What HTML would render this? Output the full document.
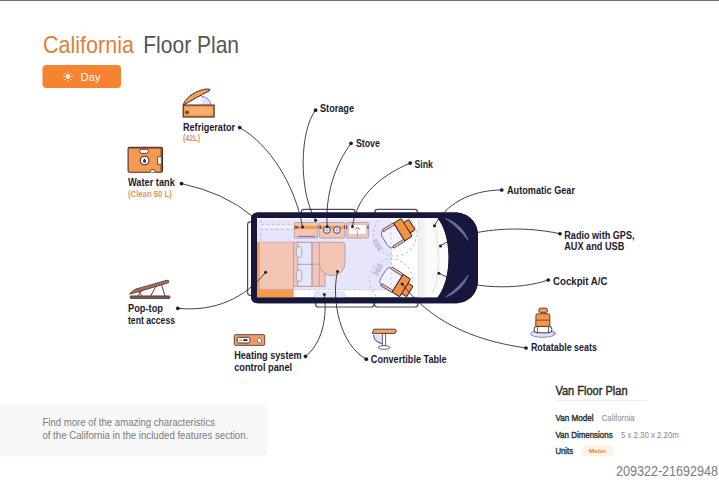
<!DOCTYPE html>
<html><head><meta charset="utf-8">
<style>
html,body{margin:0;padding:0;background:#fff;width:719px;height:480px;overflow:hidden}
svg{display:block;font-family:"Liberation Sans",sans-serif}
.lb{font-weight:bold;fill:#1c1a32;font-size:10px}
.sl{fill:#de955a;font-size:8.5px;font-weight:bold}
.ln{fill:none;stroke:#2e2d40;stroke-width:0.9}
</style></head><body>
<svg width="719" height="480" viewBox="0 0 719 480">
<defs>
<filter id="sh" x="-10%" y="-30%" width="120%" height="160%"><feGaussianBlur stdDeviation="1.5"/></filter>
</defs>
<!-- top border -->
<rect x="0" y="0" width="719" height="1" fill="#707070"/>
<!-- title -->
<text x="43" y="53" font-size="24" fill="#e27d38" textLength="91" lengthAdjust="spacingAndGlyphs">California</text>
<text x="143.3" y="53" font-size="24" fill="#545456" textLength="95.7" lengthAdjust="spacingAndGlyphs">Floor Plan</text>
<!-- day button -->
<rect x="42.5" y="65" width="78.5" height="23" rx="4" fill="#f5832f"/>
<g stroke="#fff" stroke-width="1" stroke-linecap="round" opacity="0.9">
<circle cx="67.9" cy="76.5" r="2.4" fill="#fff" stroke="none"/>
<path d="M71.80 76.50L72.40 76.50M70.66 79.26L71.08 79.68M67.90 80.40L67.90 81.00M65.14 79.26L64.72 79.68M64.00 76.50L63.40 76.50M65.14 73.74L64.72 73.32M67.90 72.60L67.90 72.00M70.66 73.74L71.08 73.32"/>
</g>
<text x="80.6" y="81.4" font-size="11.5" fill="#fff" textLength="19.9" lengthAdjust="spacingAndGlyphs">Day</text>

<!-- icons -->
<g id="ic-fridge">
<path d="M201.8 105.2V96.4A8.8 8.8 0 0 1 210.6 105.2Z" fill="#e4e2fa"/>
<path d="M201.8 96.4A8.8 8.8 0 0 1 210.6 105.2" fill="none" stroke="#7c78d0" stroke-width="0.9"/>
<path d="M201 95.6L202.6 96.4L201.2 97.6" fill="none" stroke="#7c78d0" stroke-width="0.7"/>
<path d="M183.3 104.9C185 99 192 92.5 203.6 89.4Q208 88.6 210 89.4L209.3 90.8C200 95.5 192 100 183.8 105Z" fill="#f5a060" stroke="#3e2420" stroke-width="1" stroke-linejoin="round"/>
<rect x="183.2" y="105.1" width="30.9" height="11.9" fill="#f39650" stroke="#4e2e26" stroke-width="1.2"/>
<rect x="185" y="107.4" width="27.4" height="7.2" fill="#f9ae6c"/>
<path d="M187.1 110.2V114.4M185 112.3H189.2M185.6 110.8L188.6 113.8M185.6 113.8L188.6 110.8" stroke="#5a2e22" stroke-width="0.9"/>
</g>
<g id="ic-tank">
<rect x="128.1" y="147.3" width="34.4" height="24.9" rx="1.5" fill="#f59a50" stroke="#4e2e26" stroke-width="1.1"/>
<path d="M128.6 147.9H162" stroke="#5a3328" stroke-width="1.4"/>
<path d="M161.2 148V171.6" stroke="#8a4a30" stroke-width="1.4"/>
<rect x="139.8" y="149.3" width="8.6" height="4" rx="1.7" fill="#fff" stroke="#4e2e26" stroke-width="0.9"/>
<circle cx="144.6" cy="160.5" r="4.3" fill="#fff" stroke="#4e2e26" stroke-width="1.1"/>
<path d="M144.6 158.2C143.6 159.6 143 160.4 143 161.2A1.6 1.6 0 0 0 146.2 161.2C146.2 160.4 145.6 159.6 144.6 158.2Z" fill="#2d3466"/>
<path d="M160.8 156.7H157.6V164.3H160.8" fill="#fff" stroke="#4e2e26" stroke-width="0.8"/>
<path d="M149.8 172.3A2.8 2.8 0 0 1 155.4 172.3" fill="#fff" stroke="#4e2e26" stroke-width="0.9"/>
</g>
<g id="ic-poptop" stroke="#4a2c28" stroke-width="0.8">
<path d="M155.8 286.7L150.4 296.4M161.7 285L165 296.4M137.6 290.8L142.4 296.2M142.2 290.4L137.6 296.2" fill="none" stroke-width="0.9"/>
<rect x="130" y="295.9" width="40" height="2.5" rx="1" fill="#7e5a50"/>
<path d="M129.6 294.2Q133 289 140 287.9L167 280.2Q169.6 280 168.6 282.7L140 291.3Q134 293 129.6 294.2Z" fill="#a86d58" stroke-linejoin="round"/>
</g>
<g id="ic-heat">
<rect x="234.3" y="334.7" width="30.4" height="10.6" rx="1" fill="#f0a070" stroke="#6a4030" stroke-width="1"/>
<rect x="237.2" y="337.3" width="12.8" height="5.7" rx="1.6" fill="#fff" stroke="#3a2424" stroke-width="0.9"/>
<rect x="243.3" y="339.2" width="4.2" height="1.9" rx="0.9" fill="#1c1a3e"/>
<path d="M239 340.2H242" stroke="#3a2424" stroke-width="0.6"/>
<path d="M253.9 338.2V342" stroke="#e07a3a" stroke-width="1"/>
<path d="M259.4 337.2C258 338.9 257.3 339.8 257.3 340.9A2.1 2.1 0 0 0 261.5 340.9C261.5 339.8 260.8 338.9 259.4 337.2Z" fill="#fff" stroke="#6a4030" stroke-width="0.7"/>
</g>
<g id="ic-table">
<path d="M382 334.8H373.6A8.6 8.6 0 0 0 382 343.4Z" fill="#e4e2fa"/>
<path d="M373.6 334.8A8.6 8.6 0 0 0 382 343.4" fill="none" stroke="#3a3860" stroke-width="0.9"/>
<rect x="382.3" y="333.4" width="3.4" height="13.4" fill="#fff" stroke="#3a3860" stroke-width="0.8"/>
<ellipse cx="384" cy="347.5" rx="5.9" ry="1.8" fill="#fff" stroke="#3a3860" stroke-width="0.8"/>
<path d="M373.9 329.2H395.3L396.4 331.2L395 333.4H372.3Z" fill="#f0a868" stroke="#4a2c28" stroke-width="0.9" stroke-linejoin="round"/>
</g>
<g id="ic-seat">
<ellipse cx="542.9" cy="333.8" rx="12.3" ry="3.5" fill="#e4e2fa" stroke="#7c78d0" stroke-width="0.9"/>
<path d="M553.6 331L555.4 333.3L552.6 333.8" fill="none" stroke="#7c78d0" stroke-width="0.8"/>
<rect x="534" y="326.3" width="17.9" height="6.5" rx="3" fill="#fff" stroke="#2a1e22" stroke-width="0.9"/>
<path d="M537.4 326.8V332.4M548.5 326.8V332.4" stroke="#2a1e22" stroke-width="0.7"/>
<path d="M541.8 312.2V314M544.8 312.2V314" stroke="#5a3328" stroke-width="0.8"/>
<path d="M537.3 313.8H548.4Q549.6 313.8 549.7 315L550 326.4H535.7L536 315Q536.1 313.8 537.3 313.8Z" fill="#f2984e" stroke="#5a3328" stroke-width="0.9"/>
<path d="M535.9 320.1H549.8" stroke="#5a3328" stroke-width="0.8"/>
<rect x="538.8" y="308.1" width="8.6" height="4.3" rx="1.6" fill="#f59a50" stroke="#5a3328" stroke-width="0.9"/>
</g>
<!-- labels -->
<text class="lb" x="183" y="130.7" textLength="52" lengthAdjust="spacingAndGlyphs">Refrigerator</text>
<text class="sl" x="183" y="140.9" textLength="17" lengthAdjust="spacingAndGlyphs">(42L)</text>
<text class="lb" x="128" y="185.6" textLength="46.8" lengthAdjust="spacingAndGlyphs">Water tank</text>
<text class="sl" x="128" y="196.6" textLength="43.8" lengthAdjust="spacingAndGlyphs">(Clean 50 L)</text>
<text class="lb" x="320" y="111.5" textLength="34" lengthAdjust="spacingAndGlyphs">Storage</text>
<text class="lb" x="355.9" y="147" textLength="23.9" lengthAdjust="spacingAndGlyphs">Stove</text>
<text class="lb" x="414.5" y="168" textLength="18.5" lengthAdjust="spacingAndGlyphs">Sink</text>
<text class="lb" x="507" y="194.25" textLength="68" lengthAdjust="spacingAndGlyphs">Automatic Gear</text>
<text class="lb" x="564.25" y="238.75" textLength="70.25" lengthAdjust="spacingAndGlyphs">Radio with GPS,</text>
<text class="lb" x="564.25" y="250" textLength="60" lengthAdjust="spacingAndGlyphs">AUX and USB</text>
<text class="lb" x="553" y="284.5" textLength="54.5" lengthAdjust="spacingAndGlyphs">Cockpit A/C</text>
<text class="lb" x="128" y="312" textLength="35" lengthAdjust="spacingAndGlyphs">Pop-top</text>
<text class="lb" x="128" y="323.7" textLength="47" lengthAdjust="spacingAndGlyphs">tent access</text>
<text class="lb" x="234.2" y="359.2" textLength="67.5" lengthAdjust="spacingAndGlyphs">Heating system</text>
<text class="lb" x="234.2" y="370.8" textLength="58" lengthAdjust="spacingAndGlyphs">control panel</text>
<text class="lb" x="370.8" y="362.5" textLength="75.9" lengthAdjust="spacingAndGlyphs">Convertible Table</text>
<text class="lb" x="530.9" y="350.8" textLength="66.1" lengthAdjust="spacingAndGlyphs">Rotatable seats</text>

<!-- VAN -->
<g id="van">
<!-- rails -->
<g fill="#fff" stroke="#4a4862" stroke-width="1.2">
<rect x="247.6" y="221.8" width="8" height="73.5" rx="2.8"/>
<rect x="301.3" y="209.4" width="53.7" height="10" rx="2.8"/>
<rect x="374.8" y="209.4" width="42.7" height="10" rx="2.8"/>
<rect x="315.6" y="297" width="58.4" height="10" rx="2.8"/>
<rect x="374.6" y="297" width="43.2" height="10" rx="2.8"/>
</g>
<!-- body -->
<path d="M258 212.6H455C468 212.6 478 222 478 236V280C478 294 468 303.3 455 303.3H258Q251 303.3 251 296.3V219.6Q251 212.6 258 212.6Z" fill="#17163b"/>
<!-- interior -->
<path d="M257 218H437.5C444 226 448.5 240 448.5 257.75C448.5 275 444 289 437.5 297.5H257Z" fill="#fff"/>
<path d="M418.6 218H437.5C444 226 448.5 240 448.5 257.75C448.5 275 444 289 437.5 297.5H418.6Z" fill="#fbfbfb"/>
<rect x="419" y="218" width="6" height="79.5" fill="#f1f1f1"/>
<path d="M432 222C440 235 441 280 432 293" fill="none" stroke="#ececec" stroke-width="2"/>
<path d="M418.6 218V297.5" stroke="#dcdcdc" stroke-width="0.8"/>
<!-- highlights -->
<path d="M445.4 218.3Q462 224 468.3 240.4Q458 227 445.4 218.3Z" fill="#6b6a9a" stroke="#6b6a9a" stroke-width="0.8"/>
<path d="M445.4 297.2Q462 291.5 468.3 275.1Q458 288.5 445.4 297.2Z" fill="#6b6a9a" stroke="#6b6a9a" stroke-width="0.8"/>
<!-- lavender areas -->
<rect x="257" y="218" width="134" height="24" fill="#e7e5fa"/>
<rect x="293" y="242" width="98" height="48" fill="#e7e5fa"/>
<!-- top-left dashed storage -->
<rect x="257" y="218" width="134" height="1.6" fill="#f6f5fe"/>
<rect x="262" y="225.3" width="31" height="3.3" fill="#f1f0fc"/>
<g fill="none" stroke="#c6c4de" stroke-width="1.2" stroke-dasharray="3.1 2.1">
<path d="M261 219.5V224.4H293"/>
<path d="M261 241V229.4H293"/>
</g>
<g fill="none" stroke="#c9c7e2" stroke-width="0.9" stroke-dasharray="3 2">
<path d="M293 289.7H391"/>
<path d="M391 222V289.7"/>
</g>
<!-- bed -->
<rect x="257" y="242" width="36.5" height="55.5" fill="#f2c5b5"/>
<rect x="257" y="289.4" width="36.5" height="8.1" fill="#f59a4c"/>
<rect x="257" y="242" width="2.6" height="55.5" fill="#f59a4c"/>
<path d="M259.6 242H293.5V289.4H259.6" fill="none" stroke="#b8a0a8" stroke-width="0.6"/>
<!-- seating unit -->
<g stroke="#a799a9" stroke-width="0.8">
<rect x="293.7" y="242.3" width="31.3" height="44" fill="#f2c5b5"/>
<rect x="297.8" y="242.3" width="14.2" height="22" fill="#e7e5fa"/>
<rect x="297.8" y="264.3" width="14.2" height="22" fill="#e7e5fa"/>
<path d="M312 242.3V286.3M319.3 264.2V286.3M312 264.2H325" fill="none"/>
<rect x="296.4" y="246.4" width="5.4" height="11.2" rx="2.7" fill="#e7e5fa"/>
<rect x="296.4" y="270" width="5.4" height="11.6" rx="2.7" fill="#e7e5fa"/>
<path d="M319.3 242.3H342Q345 242.3 345 245.3V262.9A12.85 12.85 0 0 1 319.3 262.9Z" fill="#f2c5b5"/>
</g>
<!-- step -->
<rect x="314.5" y="291.8" width="30.4" height="5.9" rx="2" fill="#e7e5fa" stroke="#c9c7e2" stroke-width="0.8" stroke-dasharray="3 2"/>
<!-- kitchen -->
<g stroke="#a799a9" stroke-width="0.8">
<rect x="294.4" y="222.5" width="23.1" height="15.6" rx="1" fill="#f2c5b5"/>
<rect x="319.4" y="222.5" width="25.2" height="15.6" rx="1" fill="#f2c5b5"/>
<rect x="346.2" y="222.5" width="22.5" height="15.6" rx="1" fill="#f2c5b5"/>
</g>
<rect x="295" y="225.8" width="22" height="3.2" fill="#f59a4c"/>
<rect x="297.5" y="235.9" width="18" height="1.1" fill="#7876c4"/>
<circle cx="297" cy="227.3" r="1.2" fill="#8a4a30"/>
<rect x="320" y="225.8" width="24" height="3.2" fill="#f59a4c"/>
<g stroke="#1c1a3e" stroke-width="0.8" fill="#fff">
<circle cx="326.9" cy="230" r="3.4"/>
<circle cx="336.9" cy="230" r="3.4"/>
</g>
<g stroke="#8898dc" stroke-width="0.8">
<path d="M326.9 227.2V232.8M324.1 230H329.7M336.9 227.2V232.8M334.1 230H339.7"/>
</g>
<rect x="347" y="225.8" width="21" height="3.2" fill="#f59a4c"/>
<rect x="348.6" y="224.6" width="17.6" height="9.6" fill="#fdfcff" stroke="#c8b8c0" stroke-width="0.6"/>
<path d="M355.7 229.6A1.8 1.8 0 0 1 359.3 229.6" fill="none" stroke="#7a4a44" stroke-width="0.9"/>
<path d="M357.5 230V237.5" stroke="#c0a0a8" stroke-width="0.9"/>
<g fill="#5a3a36">
<rect x="294.6" y="225.5" width="0.9" height="3.4"/>
<rect x="318.4" y="225.5" width="0.9" height="3.4"/>
<rect x="320.2" y="225.5" width="0.9" height="3.4"/>
<rect x="344.2" y="225.5" width="0.9" height="3.4"/>
<rect x="346" y="225.5" width="0.9" height="3.4"/>
<rect x="367.6" y="225.5" width="0.9" height="3.4"/>
</g>
<!-- rotation arcs -->
<g fill="none" stroke="#c2c0e0" stroke-width="1.15" stroke-dasharray="2.4 2.6">
<circle cx="395" cy="234.5" r="21.5"/>
<circle cx="391" cy="280.5" r="21.5"/>
</g>
<text x="0" y="0" font-size="7.8" font-weight="bold" fill="#b4b2da" transform="translate(383.2 249.5) rotate(-120)">360</text>
<text x="0" y="0" font-size="7.8" font-weight="bold" fill="#b4b2da" transform="translate(377 277) rotate(-60)">360</text>
<!-- seats -->
<g transform="translate(402.6 229.9) rotate(-32)">
<rect x="3.5" y="-5.6" width="7.2" height="12.2" rx="1.2" fill="#f5913f" stroke="#2a1e22" stroke-width="0.9"/>
<path d="M-4 -10.2H-15Q-21 -10.2 -21 -4.2V4.2Q-21 10.2 -15 10.2H-4Z" fill="#f3f2fc" stroke="#5e5c74" stroke-width="0.8"/>
<path d="M-17 -10.9H-4V-8.6H-17Z" fill="#f2c2c4" stroke="#3a2a2e" stroke-width="0.7"/>
<path d="M-17 8.6H-4V10.9H-17Z" fill="#f2c2c4" stroke="#3a2a2e" stroke-width="0.7"/>
<rect x="-4" y="-10.4" width="8.8" height="20.8" rx="1" fill="#f5913f" stroke="#2a1e22" stroke-width="0.9"/>
</g>
<g transform="translate(401 285.4) rotate(32)">
<rect x="3.5" y="-5.6" width="7.2" height="12.2" rx="1.2" fill="#f5913f" stroke="#2a1e22" stroke-width="0.9"/>
<path d="M-4 -10.2H-15Q-21 -10.2 -21 -4.2V4.2Q-21 10.2 -15 10.2H-4Z" fill="#f3f2fc" stroke="#5e5c74" stroke-width="0.8"/>
<path d="M-17 -10.9H-4V-8.6H-17Z" fill="#f2c2c4" stroke="#3a2a2e" stroke-width="0.7"/>
<path d="M-17 8.6H-4V10.9H-17Z" fill="#f2c2c4" stroke="#3a2a2e" stroke-width="0.7"/>
<rect x="-4" y="-10.4" width="8.8" height="20.8" rx="1" fill="#f5913f" stroke="#2a1e22" stroke-width="0.9"/>
</g>
<path d="M391 222V289.7" fill="none" stroke="#c3c1de" stroke-width="0.9" stroke-dasharray="3 2" opacity="0.8"/>
<!-- van dots -->
<g fill="#1c1a30">
<circle cx="302.5" cy="226.9" r="1.5"/>
<circle cx="315.6" cy="220.2" r="1.5"/>
<circle cx="327.2" cy="226.5" r="1.5"/>
<circle cx="352.5" cy="226.5" r="1.5"/>
<circle cx="434.5" cy="225.8" r="1.5"/>
<circle cx="440.5" cy="246" r="1.5"/>
<circle cx="438.9" cy="273.2" r="1.5"/>
<circle cx="402.2" cy="284" r="1.5"/>
<circle cx="337.5" cy="271.4" r="1.5"/>
<circle cx="324.4" cy="294.5" r="1.5"/>
<circle cx="265.6" cy="272.2" r="1.5"/>
</g>
</g>
<!-- connector lines -->
<path class="ln" d="M239.7 127.6 C270 145 295 185 302.5 226.9"/>
<path class="ln" d="M181.6 183.6 Q225 193 252 216"/>
<path class="ln" d="M315.6 110.2 C300 130 298 190 315.6 220.2"/>
<path class="ln" d="M351 143.3 C335 165 325 195 327.2 226.5"/>
<path class="ln" d="M410.2 163.1 C375 178 356 200 352.5 226.5"/>
<path class="ln" d="M501.75 190 C470 190 445 205 434.5 225.8"/>
<path class="ln" d="M560 233.75 C520 225 470 228 440 245.9"/>
<path class="ln" d="M548.25 280 C520 290 470 290 438.9 273.2"/>
<path class="ln" d="M526 348 C470 340 430 320 402.2 284"/>
<path class="ln" d="M337.5 271.4 C331 300 340 345 366.3 359.2"/>
<path class="ln" d="M324.4 294.5 C328 325 318 347 305.5 356.3"/>
<path class="ln" d="M177.8 308.3 C215 312 245 298 265.6 272.2"/>

<!-- hood ring overlay -->
<path fill-rule="evenodd" d="M258 212.6H455C468 212.6 478 222 478 236V280C478 294 468 303.3 455 303.3H258Q251 303.3 251 296.3V219.6Q251 212.6 258 212.6Z M257 218V297.5H437.5C444 289 448.5 275 448.5 257.75C448.5 240 444 226 437.5 218Z" fill="#17163b"/>
<path d="M445.4 218.3Q462 224 468.3 240.4Q458 227 445.4 218.3Z" fill="#6b6a9a" stroke="#6b6a9a" stroke-width="0.8"/>
<path d="M445.4 297.2Q462 291.5 468.3 275.1Q458 288.5 445.4 297.2Z" fill="#6b6a9a" stroke="#6b6a9a" stroke-width="0.8"/>
<!-- label dots -->
<g fill="#1b1a30">
<circle cx="239.7" cy="127.6" r="1.85"/>
<circle cx="181.6" cy="183.6" r="1.85"/>
<circle cx="315.6" cy="110.2" r="1.85"/>
<circle cx="351" cy="143.3" r="1.85"/>
<circle cx="410.2" cy="163.1" r="1.85"/>
<circle cx="501.75" cy="190" r="1.85"/>
<circle cx="560" cy="233.75" r="1.85"/>
<circle cx="548.25" cy="280" r="1.85"/>
<circle cx="526" cy="348" r="1.85"/>
<circle cx="366.3" cy="359.2" r="1.85"/>
<circle cx="305.5" cy="356.3" r="1.85"/>
<circle cx="177.8" cy="308.3" r="1.85"/>
</g>

<!-- bottom left info box -->
<rect x="-10" y="406.5" width="276.5" height="48.5" rx="3" fill="#000" opacity="0.06" filter="url(#sh)"/>
<rect x="-10" y="405.2" width="276.5" height="48.6" rx="3" fill="#f8f8f8"/>
<text x="42.4" y="425.7" font-size="10" fill="#7b7b7b" textLength="172.6" lengthAdjust="spacingAndGlyphs">Find more of the amazing characteristics</text>
<text x="42.4" y="439" font-size="10" fill="#7b7b7b" textLength="205.8" lengthAdjust="spacingAndGlyphs">of the California in the included features section.</text>

<!-- van floor plan info -->
<text x="555.4" y="395" font-size="12.4" fill="#2e2e2e" stroke="#2e2e2e" stroke-width="0.45" textLength="72.2" lengthAdjust="spacingAndGlyphs">Van Floor Plan</text>
<rect x="555" y="400" width="92.5" height="0.8" fill="#ececec"/>
<text x="555.4" y="421" font-size="9.4" fill="#2e2e2e" stroke="#2e2e2e" stroke-width="0.4" textLength="38.1" lengthAdjust="spacingAndGlyphs">Van Model</text>
<text x="601.7" y="421" font-size="9" fill="#888" textLength="32.9" lengthAdjust="spacingAndGlyphs">California</text>
<text x="555.4" y="437.7" font-size="9.4" fill="#2e2e2e" stroke="#2e2e2e" stroke-width="0.4" textLength="57.3" lengthAdjust="spacingAndGlyphs">Van Dimensions</text>
<text x="620.9" y="437.7" font-size="9" fill="#888" textLength="58" lengthAdjust="spacingAndGlyphs">5 x 2.30 x 2.20m</text>
<text x="555.4" y="454.2" font-size="9.4" fill="#2e2e2e" stroke="#2e2e2e" stroke-width="0.4" textLength="17.6" lengthAdjust="spacingAndGlyphs">Units</text>
<rect x="581" y="444.7" width="33" height="11.9" rx="6" fill="#fef2e8"/>
<text x="589" y="452.8" font-size="6" font-weight="bold" fill="#e8863c" textLength="17" lengthAdjust="spacingAndGlyphs">Meter</text>
<text x="616" y="475.8" font-size="14.6" fill="#7c7c7c" textLength="102" lengthAdjust="spacingAndGlyphs">209322-21692948</text>
</svg>
</body></html>
